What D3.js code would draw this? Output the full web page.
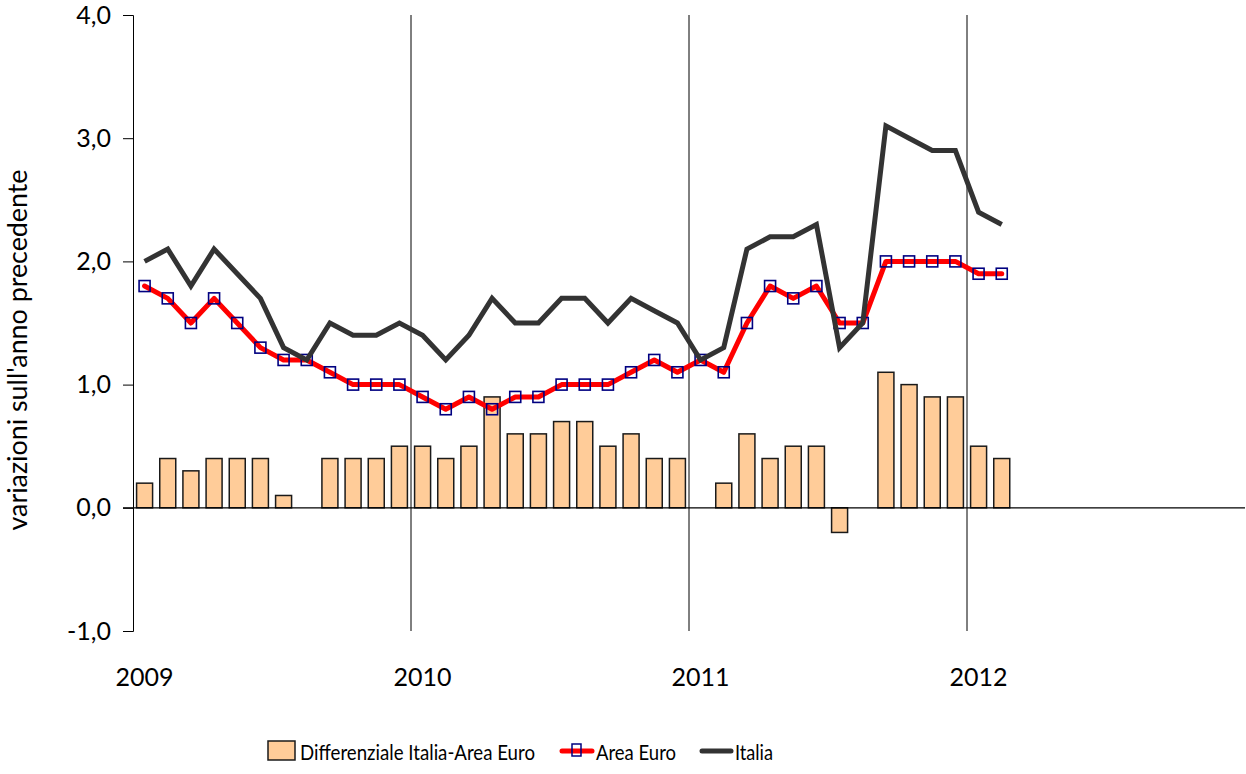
<!DOCTYPE html>
<html>
<head>
<meta charset="utf-8">
<script src="https://cdn.jsdelivr.net/npm/d3@7"></script>
<style>
  body { margin: 0; background: #fff; }
  text { font-family: Lato, "Open Sans", sans-serif; fill: #000; }
</style>
</head>
<body>
<div class="chart"></div>
<script>
// monthly data, Jan 2009 - Feb 2012
const months = d3.range(38);
const italia = [2.0, 2.1, 1.8, 2.1, 1.9, 1.7, 1.3, 1.2, 1.5, 1.4, 1.4, 1.5,
  1.4, 1.2, 1.4, 1.7, 1.5, 1.5, 1.7, 1.7, 1.5, 1.7, 1.6, 1.5,
  1.2, 1.3, 2.1, 2.2, 2.2, 2.3, 1.3, 1.5, 3.1, 3.0, 2.9, 2.9,
  2.4, 2.3];
const areaEuro = [1.8, 1.7, 1.5, 1.7, 1.5, 1.3, 1.2, 1.2, 1.1, 1.0, 1.0, 1.0,
  0.9, 0.8, 0.9, 0.8, 0.9, 0.9, 1.0, 1.0, 1.0, 1.1, 1.2, 1.1,
  1.2, 1.1, 1.5, 1.8, 1.7, 1.8, 1.5, 1.5, 2.0, 2.0, 2.0, 2.0,
  1.9, 1.9];
const differenziale = [0.2, 0.4, 0.3, 0.4, 0.4, 0.4, 0.1, 0.0, 0.4, 0.4, 0.4, 0.5,
  0.5, 0.4, 0.5, 0.9, 0.6, 0.6, 0.7, 0.7, 0.5, 0.6, 0.4, 0.4,
  0.0, 0.2, 0.6, 0.4, 0.5, 0.5, -0.2, 0.0, 1.1, 1.0, 0.9, 0.9,
  0.5, 0.4];
const years = [2009, 2010, 2011, 2012];
const yTicks = [-1, 0, 1, 2, 3, 4];

let width = 1246, height = 774;
let plotLeft = 133, plotRight = 1245, plotTop = 15, plotBottom = 631;

let svg = d3.select('.chart')
  .append('svg')
    .attr('width', width)
    .attr('height', height);

// x in months from Jan 2009 (48 months shown)
let x = d3.scaleLinear().domain([0, 48]).range([plotLeft, plotRight]);
let y = d3.scaleLinear().domain([-1, 4]).range([plotBottom, plotTop]);
let bw = 16;

// year grid lines
svg.selectAll('.grid')
  .data(years.slice(1))
  .enter().append('line')
    .attr('x1', d => x((d - 2009) * 12))
    .attr('x2', d => x((d - 2009) * 12))
    .attr('y1', plotTop)
    .attr('y2', plotBottom)
    .style('stroke', '#000')
    .style('stroke-width', 1);

// y axis
let yAxis = d3.axisLeft(y)
  .tickValues(yTicks)
  .tickSize(10)
  .tickFormat(d => d3.format('.1f')(d).replace('.', ',').replace('−', '-'));

svg.append('g')
  .attr('transform', `translate(${plotLeft},0)`)
  .call(yAxis)
  .call(g => g.selectAll('text').style('font-size', '25px').attr('x', -22).attr('fill', '#000'))
  .call(g => g.selectAll('line').style('stroke', '#000'))
  .call(g => g.select('.domain').style('stroke', '#000'));

// bars
svg.selectAll('.bar')
  .data(months.filter(i => differenziale[i] !== 0))
  .enter().append('rect')
    .attr('x', i => x(i + 0.5) - bw / 2)
    .attr('y', i => y(Math.max(0, differenziale[i])))
    .attr('width', bw)
    .attr('height', i => Math.abs(y(differenziale[i]) - y(0)))
    .style('fill', '#FFCC99')
    .style('stroke', '#1a1a1a')
    .style('stroke-width', 1.5);

// zero line
svg.append('line')
  .attr('x1', plotLeft - 10)
  .attr('x2', plotRight)
  .attr('y1', y(0))
  .attr('y2', y(0))
  .style('stroke', '#000')
  .style('stroke-width', 1.2);

let line = d3.line()
  .x(i => x(i + 0.5));

svg.append('path')
  .datum(months)
  .attr('d', line.y(i => y(areaEuro[i])))
  .style('fill', 'none')
  .style('stroke', '#FF0000')
  .style('stroke-width', 5)
  .style('stroke-linejoin', 'round')
  .style('stroke-linecap', 'round');

svg.selectAll('.marker')
  .data(months)
  .enter().append('rect')
    .attr('x', i => x(i + 0.5) - 5.5)
    .attr('y', i => y(areaEuro[i]) - 5.5)
    .attr('width', 11)
    .attr('height', 11)
    .style('fill', 'none')
    .style('stroke', '#000080')
    .style('stroke-width', 1.6);

svg.append('path')
  .datum(months)
  .attr('d', line.y(i => y(italia[i])))
  .style('fill', 'none')
  .style('stroke', '#333333')
  .style('stroke-width', 5)
  .style('stroke-linejoin', 'miter');

// year labels
svg.selectAll('.year')
  .data(years)
  .enter().append('text')
    .attr('x', d => x((d - 2009) * 12 + 0.5))
    .attr('y', 686)
    .attr('text-anchor', 'middle')
    .style('font-size', '25px')
    .text(d => d);

svg.append('text')
  .attr('transform', 'translate(27,350) rotate(-90)')
  .attr('text-anchor', 'middle')
  .attr('textLength', 361)
  .attr('lengthAdjust', 'spacingAndGlyphs')
  .style('font-size', '26px')
  .text("variazioni sull'anno precedente");

// legend
let lg = svg.append('g');
lg.append('rect')
  .attr('x', 268).attr('y', 741).attr('width', 27).attr('height', 19)
  .style('fill', '#FFCC99').style('stroke', '#1a1a1a').style('stroke-width', 1.5);
lg.append('text').attr('x', 300).attr('y', 760).style('font-size', '22px')
  .attr('textLength', 235).attr('lengthAdjust', 'spacingAndGlyphs')
  .text('Differenziale Italia-Area Euro');
lg.append('line').attr('x1', 562).attr('x2', 592).attr('y1', 751).attr('y2', 751)
  .style('stroke', '#FF0000').style('stroke-width', 5).style('stroke-linecap', 'round');
lg.append('rect').attr('x', 572).attr('y', 744).attr('width', 9).attr('height', 12)
  .style('fill', 'none').style('stroke', '#000080').style('stroke-width', 1.5);
lg.append('text').attr('x', 596).attr('y', 760).style('font-size', '22px')
  .attr('textLength', 80).attr('lengthAdjust', 'spacingAndGlyphs')
  .text('Area Euro');
lg.append('line').attr('x1', 702).attr('x2', 731).attr('y1', 751).attr('y2', 751)
  .style('stroke', '#333333').style('stroke-width', 5).style('stroke-linecap', 'round');
lg.append('text').attr('x', 735).attr('y', 760).style('font-size', '22px')
  .attr('textLength', 38).attr('lengthAdjust', 'spacingAndGlyphs')
  .text('Italia');
</script>
</body>
</html>
